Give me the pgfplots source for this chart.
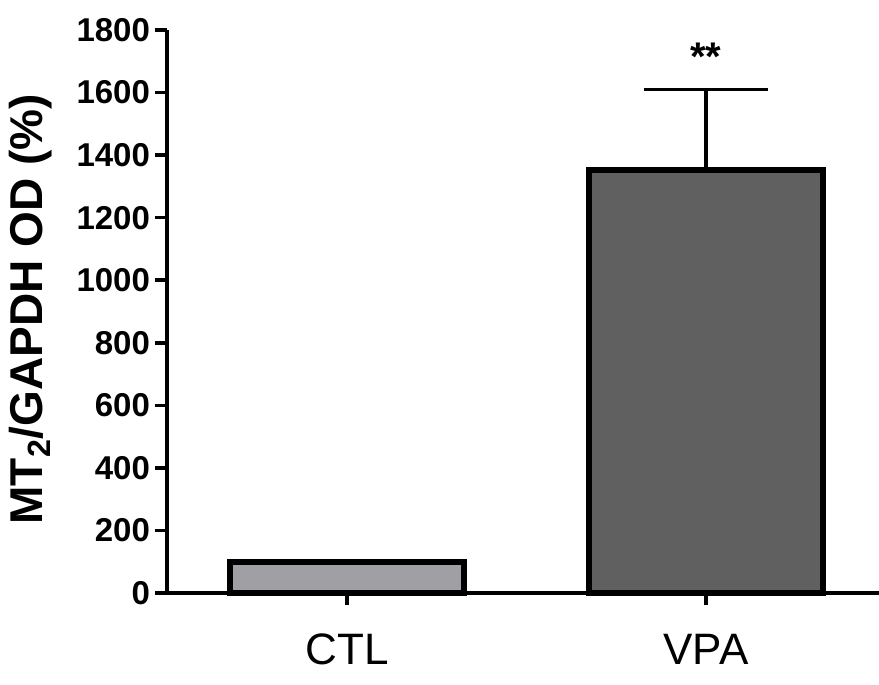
\documentclass[border=0pt]{standalone}
\usepackage{fontspec}
\setmainfont{Liberation Sans}
\usepackage{pgfplots}
\pgfplotsset{compat=1.18}
\definecolor{ctlgray}{RGB}{160,160,164}
\definecolor{vpagray}{RGB}{96,96,96}
\begin{document}
\begin{tikzpicture}
\useasboundingbox (0,0) rectangle (439.5pt,342.5pt);
\begin{axis}[
  at={(83.5pt,46pt)}, anchor=south west,
  scale only axis, width=356pt, height=281.5pt,
  xmin=-0.5014, xmax=1.482, ymin=0, ymax=1800,
  axis x line=bottom, axis y line=left,
  axis line style={line width=2.2pt, -},
  xtick={0,1}, xticklabels={CTL,VPA},
  ytick={0,200,...,1800},
  tick align=outside,
  major tick length=6pt,
  tick style={line width=1.8pt, black},
  /pgf/number format/assume math mode=true,
  /pgf/number format/1000 sep={},
  yticklabel style={font=\bfseries\fontsize{16.5}{16.5}\selectfont, xshift=1pt},
  xticklabel style={font=\fontsize{22}{22}\selectfont, yshift=-11pt},
  ylabel={MT\textsubscript{2}/GAPDH OD (\%)},
  ylabel style={font=\bfseries\fontsize{23}{23}\selectfont, at={(axis description cs:-0.191,0.504)}, anchor=center},
  clip=false,
]
\addplot[ybar, bar width=0.652, bar shift=0pt, fill=ctlgray, draw=black, line width=3pt] coordinates {(0,100)};
\addplot[ybar, bar width=0.652, bar shift=0pt, fill=vpagray, draw=black, line width=3pt,
  error bars/.cd, y dir=plus, y explicit,
  error bar style={line width=1.6pt, black},
  error mark options={line width=1.6pt, mark size=31pt, rotate=90}]
  coordinates {(1,1352) +- (0,259)};
\node[font=\bfseries\fontsize{20}{20}\selectfont] at (axis cs:1,1715) {**};
\end{axis}
\end{tikzpicture}
\end{document}
